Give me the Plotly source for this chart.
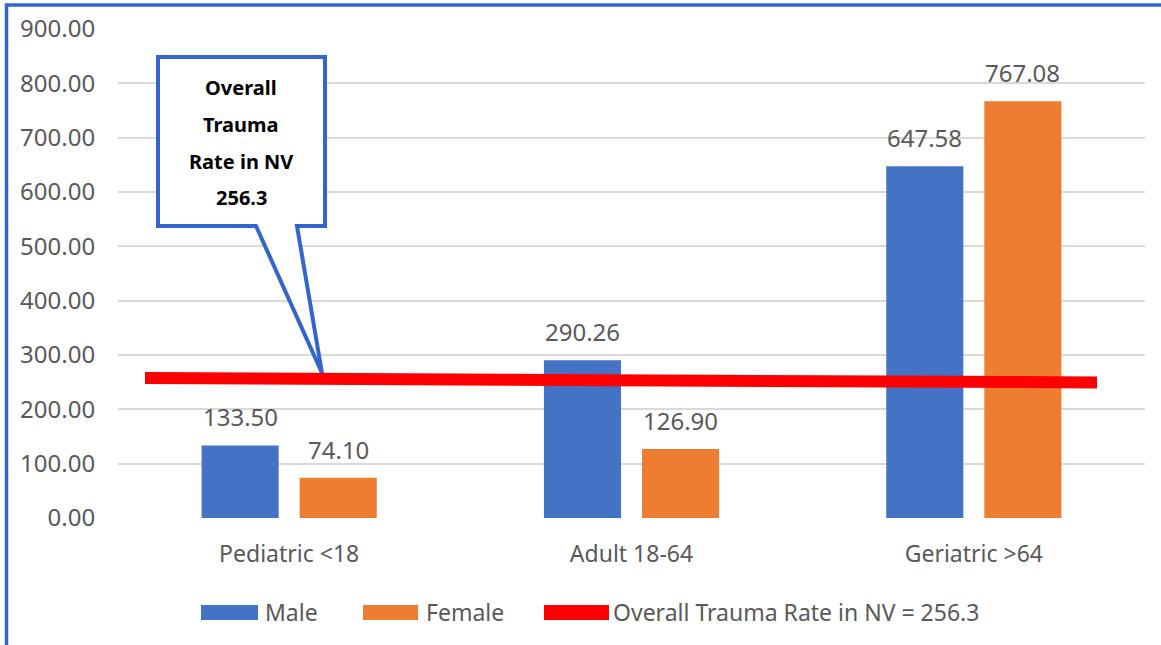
import plotly.graph_objects as go

# ---- data ----
categories = ["Pediatric <18", "Adult 18-64", "Geriatric >64"]
male_values = [133.50, 290.26, 647.58]
female_values = [74.10, 126.90, 767.08]
overall_rate = 256.3
overall_line_ends = [257.7, 249.4]   # drawn line is slightly tilted in the picture
y_ticks = [0, 100, 200, 300, 400, 500, 600, 700, 800, 900]
legend_labels = ["Male", "Female", "Overall Trauma Rate in NV = 256.3"]
callout_lines = ["Overall", "Trauma", "Rate in NV", "256.3"]

# ---- layout helpers (pixel -> paper) ----
W, H = 1161, 645
L, R, T, B = 118, 16, 29, 127
PW, PH = W - L - R, H - T - B

def px(x):
    return (x - L) / PW

def py(y):
    return (H - B - y) / PH

BLUE = "#4472C4"
ORANGE = "#ED7D31"
RED = "#FF0000"
GREY = "#595959"
BORDER = "#3366CC"
FONT = "Noto Sans"

fig = go.Figure()
fig.add_trace(go.Bar(x=categories, y=male_values, name=legend_labels[0],
                     marker=dict(color=BLUE, line=dict(width=0)), showlegend=False))
fig.add_trace(go.Bar(x=categories, y=female_values, name=legend_labels[1],
                     marker=dict(color=ORANGE, line=dict(width=0)), showlegend=False))

annotations = []
# bar value labels
for cat, mv, fv in zip(categories, male_values, female_values):
    for val, shift in ((mv, -49), (fv, 49)):
        annotations.append(dict(x=cat, y=val, xref="x", yref="y", text=f"{val:.2f}",
                                showarrow=False, xshift=shift, yshift=10, yanchor="bottom",
                                font=dict(family=FONT, size=24, color=GREY)))

# callout text
for i, line in enumerate(callout_lines):
    annotations.append(dict(x=px(241), y=py(87 + 37 * i), xref="paper", yref="paper",
                            text=f"<b>{line}</b>", showarrow=False,
                            xanchor="center", yanchor="middle",
                            font=dict(family=FONT, size=20, color="black")))

# manual legend
legend_items = [(legend_labels[0], BLUE, 201, 258, 263),
                (legend_labels[1], ORANGE, 363, 418, 424),
                (legend_labels[2], RED, 544, 609, 611)]
shapes = []
for label, col, x0, x1, tx in legend_items:
    shapes.append(dict(type="rect", xref="paper", yref="paper",
                       x0=px(x0), x1=px(x1), y0=py(620), y1=py(605),
                       fillcolor=col, line=dict(width=0), layer="above"))
    annotations.append(dict(x=px(tx), y=py(612), xref="paper", yref="paper", text=label,
                            showarrow=False, xanchor="left", yanchor="middle",
                            font=dict(family=FONT, size=23, color=GREY)))

# callout box with pointer
cx0, cx1, cy0, cy1 = 158, 325, 57, 226
path = (f"M {px(cx0)},{py(cy0)} L {px(cx1)},{py(cy0)} L {px(cx1)},{py(cy1)} "
        f"L {px(297)},{py(cy1)} L {px(322)},{py(373)} L {px(256)},{py(cy1)} "
        f"L {px(cx0)},{py(cy1)} Z")
shapes.append(dict(type="path", xref="paper", yref="paper", path=path,
                   fillcolor="white", line=dict(color=BORDER, width=4), layer="above"))

# overall trauma rate line
shapes.append(dict(type="line", xref="paper", yref="y",
                   x0=px(145), x1=px(1097), y0=overall_line_ends[0], y1=overall_line_ends[1],
                   line=dict(color=RED, width=12), layer="above"))

# outer frame
shapes.append(dict(type="rect", xref="paper", yref="paper",
                   x0=px(6.5), x1=px(1200), y0=py(5), y1=py(700),
                   line=dict(color=BORDER, width=3.5), fillcolor="rgba(0,0,0,0)",
                   layer="above"))

fig.update_layout(
    width=W, height=H,
    margin=dict(l=L, r=R, t=T, b=B),
    paper_bgcolor="white", plot_bgcolor="white",
    barmode="group", bargap=0.427, bargroupgap=0.214,
    showlegend=False,
    font=dict(family=FONT, color=GREY),
    shapes=shapes, annotations=annotations,
)
fig.update_xaxes(type="category", showgrid=False, showline=False, zeroline=False,
                 ticks="outside", ticklen=15, tickcolor="rgba(0,0,0,0)",
                 tickfont=dict(family=FONT, size=23, color=GREY))
fig.update_yaxes(range=[0, 900], tickvals=y_ticks, tickformat=".2f",
                 showgrid=True, gridcolor="#D9D9D9", gridwidth=2,
                 zeroline=False, showline=False,
                 ticks="outside", ticklen=17, tickcolor="rgba(0,0,0,0)",
                 tickfont=dict(family=FONT, size=24, color=GREY))

fig.write_html("out.html",
               config={"displayModeBar": False},
               post_script="document.body.style.margin='0';document.body.style.overflow='hidden';")
